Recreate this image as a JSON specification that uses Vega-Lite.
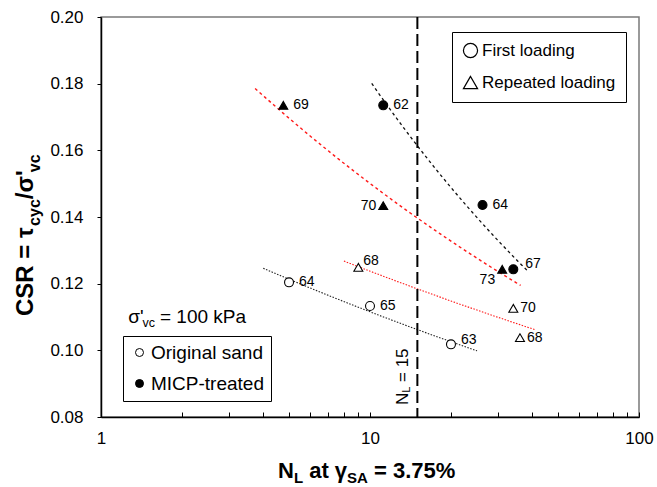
{
  "$schema": "https://vega.github.io/schema/vega-lite/v6.json",
  "width": 538,
  "height": 400,
  "autosize": {"type": "none"},
  "padding": {"left": 101, "top": 17, "right": 18, "bottom": 70},
  "background": "white",
  "config": {
    "view": {"stroke": "#7a7a7a", "strokeWidth": 1.5},
    "font": "Liberation Sans",
    "axis": {"grid": false, "domainColor": "black", "domainWidth": 1.5, "tickColor": "black", "tickWidth": 1, "labelColor": "black", "labelFont": "Liberation Sans", "labelFontSize": 17},
    "text": {"font": "Liberation Sans", "color": "black"}
  },
  "datasets": {
    "pts": [
      {"id": "o64", "NL": 5.0, "CSR": 0.1204, "material": "Original sand", "loading": "First loading", "label": "64"},
      {"id": "o65", "NL": 10.0, "CSR": 0.1133, "material": "Original sand", "loading": "First loading", "label": "65"},
      {"id": "o63", "NL": 20.0, "CSR": 0.1018, "material": "Original sand", "loading": "First loading", "label": "63"},
      {"id": "r68a", "NL": 9.05, "CSR": 0.1249, "material": "Original sand", "loading": "Repeated loading", "label": "68"},
      {"id": "r70", "NL": 34.1, "CSR": 0.1126, "material": "Original sand", "loading": "Repeated loading", "label": "70"},
      {"id": "r68b", "NL": 36.1, "CSR": 0.1038, "material": "Original sand", "loading": "Repeated loading", "label": "68"},
      {"id": "m62", "NL": 11.2, "CSR": 0.1735, "material": "MICP-treated", "loading": "First loading", "label": "62"},
      {"id": "m64", "NL": 26.2, "CSR": 0.1436, "material": "MICP-treated", "loading": "First loading", "label": "64"},
      {"id": "m67", "NL": 34.1, "CSR": 0.1243, "material": "MICP-treated", "loading": "First loading", "label": "67"},
      {"id": "t69", "NL": 4.76, "CSR": 0.1735, "material": "MICP-treated", "loading": "Repeated loading", "label": "69"},
      {"id": "t70", "NL": 11.2, "CSR": 0.1434, "material": "MICP-treated", "loading": "Repeated loading", "label": "70"},
      {"id": "t73", "NL": 31.0, "CSR": 0.1243, "material": "MICP-treated", "loading": "Repeated loading", "label": "73"}
    ]
  },
  "layer": [
    {
      "data": {"name": "pts"},
      "transform": [
        {"filter": "datum.material == 'Original sand' && datum.loading == 'First loading'"},
        {"regression": "CSR", "on": "NL", "method": "pow", "extent": [4.01, 25.0]}
      ],
      "mark": {"type": "line", "color": "#222222", "strokeWidth": 1.1, "strokeDash": [1.5, 1.5]},
      "encoding": {
        "x": {"field": "NL", "type": "quantitative", "title": null, "scale": {"type": "log", "domain": [1, 100], "nice": false}},
        "y": {"field": "CSR", "type": "quantitative", "title": null, "scale": {"domain": [0.08, 0.2], "nice": false, "zero": false}}
      }
    },
    {
      "data": {"name": "pts"},
      "transform": [
        {"filter": "datum.material == 'Original sand' && datum.loading == 'Repeated loading'"},
        {"regression": "CSR", "on": "NL", "method": "pow", "extent": [8.0, 41.4]}
      ],
      "mark": {"type": "line", "color": "#ff1a1a", "strokeWidth": 1.1, "strokeDash": [1.5, 1.5]},
      "encoding": {
        "x": {"field": "NL", "type": "quantitative", "title": null},
        "y": {"field": "CSR", "type": "quantitative", "title": null}
      }
    },
    {
      "data": {"name": "pts"},
      "transform": [
        {"filter": "datum.material == 'MICP-treated' && datum.loading == 'First loading'"},
        {"regression": "CSR", "on": "NL", "method": "pow", "extent": [10.15, 39.0]}
      ],
      "mark": {"type": "line", "color": "#111111", "strokeWidth": 1.3, "strokeDash": [3, 3]},
      "encoding": {
        "x": {"field": "NL", "type": "quantitative", "title": null},
        "y": {"field": "CSR", "type": "quantitative", "title": null}
      }
    },
    {
      "data": {"name": "pts"},
      "transform": [
        {"filter": "datum.material == 'MICP-treated' && datum.loading == 'Repeated loading'"},
        {"regression": "CSR", "on": "NL", "method": "pow", "extent": [3.74, 36.3]}
      ],
      "mark": {"type": "line", "color": "#ff1a1a", "strokeWidth": 1.4, "strokeDash": [3, 3]},
      "encoding": {
        "x": {"field": "NL", "type": "quantitative", "title": null},
        "y": {"field": "CSR", "type": "quantitative", "title": null}
      }
    },
    {
      "data": {"values": [{"NLcrit": 15}]},
      "mark": {"type": "rule", "color": "black", "strokeWidth": 2, "strokeDash": [12, 5]},
      "encoding": {"x": {"field": "NLcrit", "type": "quantitative", "title": null}}
    },
    {
      "data": {"name": "pts"},
      "mark": {"type": "point", "filled": true, "stroke": "black", "strokeWidth": 1.1, "size": 80, "opacity": 1},
      "encoding": {
        "x": {
          "field": "NL", "type": "quantitative", "title": null,
          "axis": {"values": [1, 2, 3, 4, 5, 6, 7, 8, 9, 10, 20, 30, 40, 50, 60, 70, 80, 90, 100], "labelExpr": "datum.value == 1 || datum.value == 10 || datum.value == 100 ? format(datum.value, 'd') : ''", "tickSize": -5, "labelPadding": 18, "labelFlush": false, "labelOverlap": false}
        },
        "y": {
          "field": "CSR", "type": "quantitative", "title": null,
          "axis": {"values": [0.08, 0.09, 0.1, 0.11, 0.12, 0.13, 0.14, 0.15, 0.16, 0.17, 0.18, 0.19, 0.2], "labelExpr": "round(datum.value * 100) % 2 == 0 ? format(datum.value, '.2f') : ''", "tickSize": 4, "labelPadding": 14, "labelOverlap": false}
        },
        "shape": {
          "field": "loading", "type": "nominal",
          "scale": {"domain": ["First loading", "Repeated loading"], "range": ["circle", "triangle-up"]},
          "legend": {"title": null, "orient": "none", "legendX": 351, "legendY": 15, "strokeColor": "black", "fillColor": "white", "padding": 10, "labelFontSize": 17, "labelFont": "Liberation Sans", "labelColor": "black", "symbolSize": 200, "symbolFillColor": "white", "symbolStrokeColor": "black", "symbolStrokeWidth": 1.2, "rowPadding": 13, "labelOffset": 3}
        },
        "fill": {
          "field": "material", "type": "nominal",
          "scale": {"domain": ["Original sand", "MICP-treated"], "range": ["white", "black"]},
          "legend": {"title": null, "orient": "none", "legendX": 22, "legendY": 319, "strokeColor": "black", "fillColor": "white", "padding": 7, "labelFontSize": 19, "labelFont": "Liberation Sans", "labelColor": "black", "symbolSize": 64, "symbolType": "circle", "symbolStrokeColor": "black", "symbolStrokeWidth": 1, "rowPadding": 11, "labelOffset": 2}
        }
      }
    },
    {
      "data": {"name": "pts"},
      "transform": [{"filter": {"field": "id", "oneOf": ["o64", "o65", "m62", "m64", "t69"]}}],
      "mark": {"type": "text", "fontSize": 14, "align": "left", "baseline": "middle", "dx": 10},
      "encoding": {"x": {"field": "NL", "type": "quantitative", "title": null}, "y": {"field": "CSR", "type": "quantitative", "title": null}, "text": {"field": "label"}}
    },
    {
      "data": {"name": "pts"},
      "transform": [{"filter": {"field": "id", "oneOf": ["r70", "r68b"]}}],
      "mark": {"type": "text", "fontSize": 14, "align": "left", "baseline": "middle", "dx": 7},
      "encoding": {"x": {"field": "NL", "type": "quantitative", "title": null}, "y": {"field": "CSR", "type": "quantitative", "title": null}, "text": {"field": "label"}}
    },
    {
      "data": {"name": "pts"},
      "transform": [{"filter": {"field": "id", "oneOf": ["o63"]}}],
      "mark": {"type": "text", "fontSize": 14, "align": "left", "baseline": "middle", "dx": 10, "dy": -4},
      "encoding": {"x": {"field": "NL", "type": "quantitative", "title": null}, "y": {"field": "CSR", "type": "quantitative", "title": null}, "text": {"field": "label"}}
    },
    {
      "data": {"name": "pts"},
      "transform": [{"filter": {"field": "id", "oneOf": ["m67"]}}],
      "mark": {"type": "text", "fontSize": 14, "align": "left", "baseline": "middle", "dx": 12, "dy": -5},
      "encoding": {"x": {"field": "NL", "type": "quantitative", "title": null}, "y": {"field": "CSR", "type": "quantitative", "title": null}, "text": {"field": "label"}}
    },
    {
      "data": {"name": "pts"},
      "transform": [{"filter": {"field": "id", "oneOf": ["r68a"]}}],
      "mark": {"type": "text", "fontSize": 14, "align": "left", "baseline": "middle", "dx": 5, "dy": -6},
      "encoding": {"x": {"field": "NL", "type": "quantitative", "title": null}, "y": {"field": "CSR", "type": "quantitative", "title": null}, "text": {"field": "label"}}
    },
    {
      "data": {"name": "pts"},
      "transform": [{"filter": {"field": "id", "oneOf": ["t70"]}}],
      "mark": {"type": "text", "fontSize": 14, "align": "right", "baseline": "middle", "dx": -7},
      "encoding": {"x": {"field": "NL", "type": "quantitative", "title": null}, "y": {"field": "CSR", "type": "quantitative", "title": null}, "text": {"field": "label"}}
    },
    {
      "data": {"name": "pts"},
      "transform": [{"filter": {"field": "id", "oneOf": ["t73"]}}],
      "mark": {"type": "text", "fontSize": 14, "align": "right", "baseline": "middle", "dx": -7, "dy": 11},
      "encoding": {"x": {"field": "NL", "type": "quantitative", "title": null}, "y": {"field": "CSR", "type": "quantitative", "title": null}, "text": {"field": "label"}}
    },
    {
      "data": {"values": [{"t": "N"}]},
      "mark": {"type": "text", "fontSize": 22, "fontWeight": "bold", "align": "left", "baseline": "alphabetic", "dx": -92, "dy": 61},
      "encoding": {"x": {"datum": 10}, "y": {"datum": 0.08}, "text": {"field": "t"}}
    },
    {
      "data": {"values": [{"t": "L"}]},
      "mark": {"type": "text", "fontSize": 15, "fontWeight": "bold", "align": "left", "baseline": "alphabetic", "dx": -76.1, "dy": 66},
      "encoding": {"x": {"datum": 10}, "y": {"datum": 0.08}, "text": {"field": "t"}}
    },
    {
      "data": {"values": [{"t": "at γ"}]},
      "mark": {"type": "text", "fontSize": 22, "fontWeight": "bold", "align": "left", "baseline": "alphabetic", "dx": -60.8, "dy": 61},
      "encoding": {"x": {"datum": 10}, "y": {"datum": 0.08}, "text": {"field": "t"}}
    },
    {
      "data": {"values": [{"t": "SA"}]},
      "mark": {"type": "text", "fontSize": 15, "fontWeight": "bold", "align": "left", "baseline": "alphabetic", "dx": -22.9, "dy": 66},
      "encoding": {"x": {"datum": 10}, "y": {"datum": 0.08}, "text": {"field": "t"}}
    },
    {
      "data": {"values": [{"t": "= 3.75%"}]},
      "mark": {"type": "text", "fontSize": 22, "fontWeight": "bold", "align": "left", "baseline": "alphabetic", "dx": 4, "dy": 61},
      "encoding": {"x": {"datum": 10}, "y": {"datum": 0.08}, "text": {"field": "t"}}
    },
    {
      "data": {"values": [{"t": "CSR ="}]},
      "mark": {"type": "text", "fontSize": 24, "fontWeight": "bold", "align": "left", "baseline": "alphabetic", "angle": 270, "dx": -99, "dy": -67.7},
      "encoding": {"x": {"datum": 1}, "y": {"datum": 0.14}, "text": {"field": "t"}}
    },
    {
      "data": {"values": [{"t": "τ"}]},
      "mark": {"type": "text", "fontSize": 24, "fontWeight": "bold", "align": "left", "baseline": "alphabetic", "angle": 270, "dx": -20.9, "dy": -67.7},
      "encoding": {"x": {"datum": 1}, "y": {"datum": 0.14}, "text": {"field": "t"}}
    },
    {
      "data": {"values": [{"t": "cyc"}]},
      "mark": {"type": "text", "fontSize": 16, "fontWeight": "bold", "align": "left", "baseline": "alphabetic", "angle": 270, "dx": -8.9, "dy": -61},
      "encoding": {"x": {"datum": 1}, "y": {"datum": 0.14}, "text": {"field": "t"}}
    },
    {
      "data": {"values": [{"t": "/σ'"}]},
      "mark": {"type": "text", "fontSize": 24, "fontWeight": "bold", "align": "left", "baseline": "alphabetic", "angle": 270, "dx": 17.8, "dy": -67.7},
      "encoding": {"x": {"datum": 1}, "y": {"datum": 0.14}, "text": {"field": "t"}}
    },
    {
      "data": {"values": [{"t": "vc"}]},
      "mark": {"type": "text", "fontSize": 16, "fontWeight": "bold", "align": "left", "baseline": "alphabetic", "angle": 270, "dx": 44.8, "dy": -61},
      "encoding": {"x": {"datum": 1}, "y": {"datum": 0.14}, "text": {"field": "t"}}
    },
    {
      "data": {"values": [{"t": "σ'"}]},
      "mark": {"type": "text", "fontSize": 19, "align": "left", "baseline": "alphabetic", "dx": 27.3, "dy": 6},
      "encoding": {"x": {"datum": 1}, "y": {"datum": 0.11}, "text": {"field": "t"}}
    },
    {
      "data": {"values": [{"t": "vc"}]},
      "mark": {"type": "text", "fontSize": 12.5, "align": "left", "baseline": "alphabetic", "dx": 41.5, "dy": 10},
      "encoding": {"x": {"datum": 1}, "y": {"datum": 0.11}, "text": {"field": "t"}}
    },
    {
      "data": {"values": [{"t": "= 100 kPa"}]},
      "mark": {"type": "text", "fontSize": 19, "align": "left", "baseline": "alphabetic", "dx": 59, "dy": 6},
      "encoding": {"x": {"datum": 1}, "y": {"datum": 0.11}, "text": {"field": "t"}}
    },
    {
      "data": {"values": [{"t": "N"}]},
      "mark": {"type": "text", "fontSize": 17, "align": "left", "baseline": "alphabetic", "angle": 270, "dx": 12, "dy": -9.4},
      "encoding": {"x": {"datum": 15}, "y": {"datum": 0.08}, "text": {"field": "t"}}
    },
    {
      "data": {"values": [{"t": "L"}]},
      "mark": {"type": "text", "fontSize": 11, "align": "left", "baseline": "alphabetic", "angle": 270, "dx": 24.3, "dy": -7.4},
      "encoding": {"x": {"datum": 15}, "y": {"datum": 0.08}, "text": {"field": "t"}}
    },
    {
      "data": {"values": [{"t": "= 15"}]},
      "mark": {"type": "text", "fontSize": 17, "align": "left", "baseline": "alphabetic", "angle": 270, "dx": 35, "dy": -9.4},
      "encoding": {"x": {"datum": 15}, "y": {"datum": 0.08}, "text": {"field": "t"}}
    }
  ]
}
